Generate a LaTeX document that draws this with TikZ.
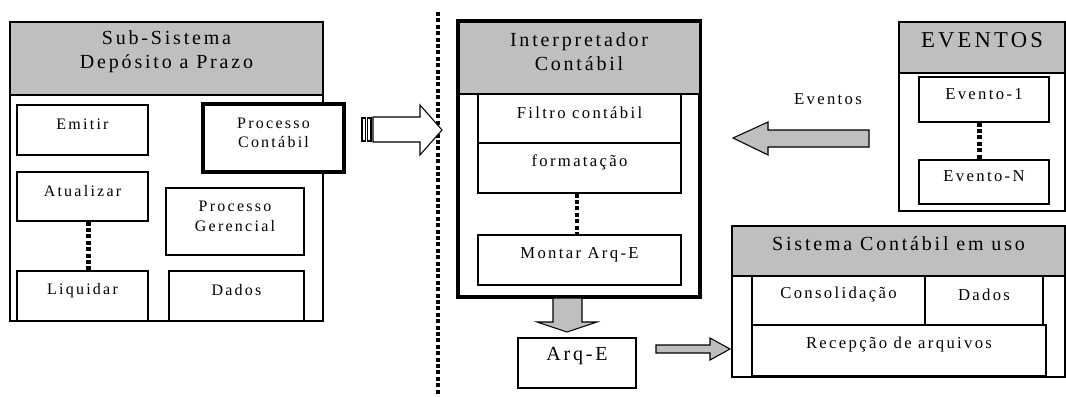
\documentclass[tikz,border=0pt]{standalone}
\usepackage{fontspec}
\setmainfont{Liberation Serif}[LetterSpace=14]
\usetikzlibrary{fit,positioning}

\begin{document}
\begin{tikzpicture}[
    x=0.75pt, y=-0.75pt,
    outbox/.style={
    draw=black,
    line width=1.1pt,
    fill=white,
    inner sep=0pt},
    headbox/.style={
    outbox,
    fill=gray!50,
    align=center,
    font=\fontsize{15}{18}\selectfont},
    inbox/.style={
    draw=black,
    line width=0.8pt,
    fill=white,
    inner sep=0pt,
    align=center,
    font=\fontsize{12}{14.5}\selectfont},
    midbox/.style={inbox, font=\fontsize{12.5}{15}\selectfont},
    thickbox/.style={inbox, line width=3.4pt},
    dotline/.style={line width=3.4pt, dash pattern=on 3pt off 1.8pt},
    blockarrow/.style={draw=black, line width=0.8pt, fill=gray!50}
    ]
    \useasboundingbox (0,0) rectangle (1066,396);

    % Sub-Sistema
    \node[outbox, fit={(10,22) (323,321)}] (sub) {};
    \node[headbox, fit={(10,22) (323,95)}] (subhead) {Sub-Sistema\\Depósito a Prazo};
    \node[inbox, fit={(17,105) (148,155)}] (emitir) {Emitir};
    \node[inbox, fit={(17,172) (148,221)}] (atualizar) {Atualizar};
    \node[inbox, fit={(17,271) (148,321)}] (liquidar) {Liquidar};
    \node[inbox, fit={(166,188) (304,255)}] (gerencial) {Processo\\Gerencial};
    \node[inbox, fit={(169,271) (304,321)}] (dados1) {Dados};
    \node[thickbox, fit={(203,104) (344,172)}] (contabil) {Processo\\Contábil};
    \draw[dotline] ([xshift=4.5pt]atualizar.south) -- ([xshift=4.5pt]liquidar.north);

    % separator
    \draw[dotline] (438,12) -- (438,396);

    % hollow arrow
    \draw[line width=0.8pt, fill=white] (362,118) rectangle (365.5,141);
    \draw[line width=0.8pt, fill=white] (367.5,118) rectangle (371,141);
    \draw[line width=0.8pt, fill=white] (373,117) -- (420,117) -- (420,105) -- (442,130)
        -- (420,155) -- (420,142) -- (373,142) -- cycle;

    % Interpretador
    \node[outbox, line width=3.4pt, fit={(458,21) (700,297)}] (interp) {};
    \node[headbox, line width=0pt, draw=none, fit={(459.5,22.5) (698.5,94)}] (interphead) {Interpretador\\Contábil};
    \draw[line width=1.1pt] (interphead.south west) -- (interphead.south east);
    \node[midbox, fit={(478,94) (681,143)}] (filtro) {Filtro contábil};
    \node[midbox, fit={(478,143) (681,193)}] (format) {formatação};
    \node[midbox, fit={(478,235) (681,285)}] (montar) {Montar Arq-E};
    \draw[dotline] ([xshift=-2pt]format.south) -- ([xshift=-2pt]montar.north);

    % Arq-E
    \node[inbox, fit={(518,338) (636,388)}, font=\fontsize{15}{18}\selectfont] (arqe) {Arq-E};
    \draw[blockarrow] (553,298) -- (582,298) -- (582,322) -- (597,322) -- (567,332)
        -- (537,322) -- (553,322) -- cycle;
    \draw[blockarrow] (656,345) -- (710,345) -- (710,338) -- (730,349) -- (710,360)
        -- (710,353) -- (656,353) -- cycle;

    % EVENTOS
    \node[outbox, fit={(899,22) (1065,211)}] (ev) {};
    \node[headbox, fit={(899,22) (1065,73)}, font=\fontsize{17}{20}\selectfont] (evhead) {EVENTOS};
    \node[midbox, fit={(919,77) (1049,122)}] (ev1) {Evento-1};
    \node[midbox, fit={(919,160) (1049,204)}] (evn) {Evento-N};
    \draw[dotline] ([xshift=-3.5pt]ev1.south) -- ([xshift=-3.5pt]evn.north);
    \node[font=\fontsize{12.5}{15}\selectfont] (evlabel) at (828,99) {Eventos};
    \draw[blockarrow] (869,130) -- (768,130) -- (768,122) -- (733,138) -- (768,155)
        -- (768,147) -- (869,147) -- cycle;

    % Sistema Contabil
    \node[outbox, fit={(732,226) (1065,377)}] (sis) {};
    \node[headbox, fit={(732,226) (1065,276)}] (sishead) {Sistema Contábil em uso};
    \node[midbox, fit={(752,276) (925,325)}] (consol) {Consolidação};
    \node[midbox, fit={(925,276) (1043,325)}] (dados2) {Dados};
    \node[midbox, fit={(752,325) (1046,376)}] (recep) {Recepção de arquivos};
\end{tikzpicture}
\end{document}
